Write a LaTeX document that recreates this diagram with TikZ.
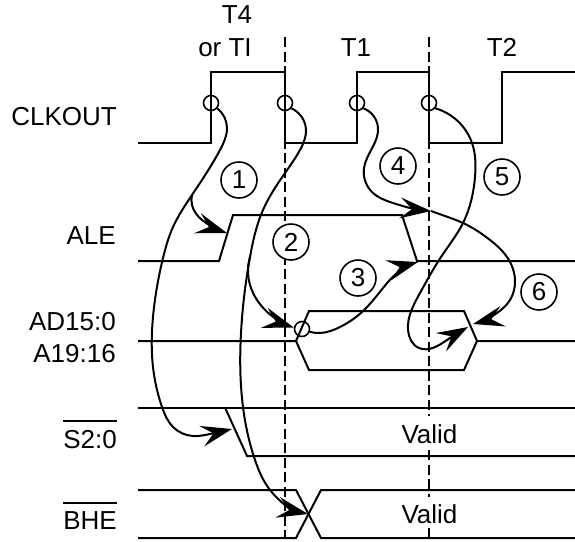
\documentclass[tikz,border=0pt]{standalone}
\usepackage{fontspec}
\setmainfont{Liberation Sans}
\usetikzlibrary{arrows.meta,hobby}
\tikzset{
  x=1pt,y=-1pt,
  sig/.style={line width=2pt,line join=miter},
  guide/.style={line width=1.4pt,dash pattern=on 10pt off 4.5pt},
  curve/.style={line width=2pt,use Hobby shortcut},
  tipped/.style={curve,-{Stealth[length=31pt,width=21pt,inset=12pt]}},
  marker/.style={circle,draw,line width=1.6pt,minimum size=15pt,inner sep=0pt},
  num/.style={circle,draw,fill=white,line width=1.6pt,minimum size=36pt,inner sep=0pt,font=\fontsize{26}{26}\selectfont},
  lab/.style={font=\fontsize{26}{30}\selectfont,inner sep=0pt,anchor=base},
  labr/.style={lab,anchor=base east},
  bar/.style={line width=2pt},
}
\begin{document}
\begin{tikzpicture}
\useasboundingbox (0,0) rectangle (575,541);
% guides
\draw[guide] (285,37) -- (285,538);
\draw[guide] (429,37) -- (429,416);
\draw[guide] (429,450) -- (429,497);
\draw[guide] (429,528) -- (429,538);
% signals
\draw[sig] (138,143) -- (211,143) -- (211,71.5) -- (285,71.5) -- (285,143) -- (357,143) -- (357,71.5) -- (429,71.5) -- (429,143) -- (502,143) -- (502,71.5) -- (575,71.5);
\draw[sig] (138,261) -- (219,261) -- (233,215) -- (402,215) -- (417,261) -- (575,261);
\draw[sig] (138,341) -- (296,341) -- (309,311) -- (464,311) -- (477,341) -- (575,341);
\draw[sig] (296,341) -- (309,370) -- (464,370) -- (477,341);
\draw[sig] (138,407.5) -- (575,407.5);
\draw[sig] (225,407.5) -- (247,456) -- (575,456);
\draw[sig] (138,490) -- (296,490) -- (321,538) -- (575,538);
\draw[sig] (138,538) -- (296,538) -- (321,490) -- (575,490);
% markers
\node[marker] (m1) at (211,103) {};
\node[marker] (m2) at (285,103) {};
\node[marker] (m3) at (357,103) {};
\node[marker] (m4) at (429,103) {};
\node[marker] (m5) at (302,329) {};
% targets
\coordinate (ale) at (227,233);
\coordinate (s) at (232,429);
\coordinate (ad) at (m5.170);
\coordinate (bhe) at (308,514);
\coordinate (alef) at (418,262);
\coordinate (mid) at (431,211);
\coordinate (adh) at (473,324);
\coordinate (adi) at (468,327);
\coordinate (j1) at (192,195);
\coordinate (j2) at (250,257);
% curves
\draw[tipped] (m1.-40) .. (227,128) .. (220,150) .. (j1) .. (173,227) .. (163,258) .. (153,317) .. (153,367) .. (162,407) .. (173,427) .. (193,436) .. (210,434) .. (s);
\draw[tipped] (j1) .. (192,205) .. (202,220) .. (211,226) .. (ale);
\draw[tipped] (m2.-40) .. (306,130) .. (300,150) .. (285,173) .. (263,210) .. (j2) .. (241,333) .. (243,407) .. (255,460) .. (270,490) .. (bhe);
\draw[tipped] (j2) .. (248,270) .. (257,300) .. (272,316) .. (ad);
\draw[tipped] (m5.-20) .. (320,333) .. (340,327) .. (362,312) .. (383,288) .. (397,273) .. (alef);
\draw[tipped] (m3.-40) .. (378,128) .. (364,168) .. (373,193) .. (390,202) .. (mid);
\draw[tipped] (mid) .. (445,216) .. (463,223) .. (490,240) .. (507,257) .. (515,280) .. (510,300) .. (497,313) .. (adh);
\draw[tipped] (m4.-40) .. (472,143) .. (475,177) .. (463,223) .. (441,257) .. (420,293) .. (408,330) .. (419,348) .. (447,340) .. (adi);
% numbers
\node[num] (n1) at (239,180) {1};
\node[num] (n2) at (291,242) {2};
\node[num] (n3) at (358,278) {3};
\node[num] (n4) at (398,166) {4};
\node[num] (n5) at (502,177) {5};
\node[num] (n6) at (539,292) {6};
% labels
\node[lab] (l1) at (237,23) {T4};
\node[lab] (l2) at (225,56) {or TI};
\node[lab] (l3) at (356,56) {T1};
\node[lab] (l4) at (502,56) {T2};
\node[labr] (l5) at (117,125) {CLKOUT};
\node[labr] (l6) at (116,244) {ALE};
\node[labr] (l7) at (116,330) {AD15:0};
\node[labr] (l8) at (116,362) {A19:16};
\node[labr] (l9) at (117,448) {S2:0};
\node[labr] (l10) at (117,529) {BHE};
\draw[bar] (63,421) -- (117,421);
\draw[bar] (63,503) -- (117,503);
\node[lab] (v1) at (429.5,443) {Valid};
\node[lab] (v2) at (429.5,523) {Valid};
\end{tikzpicture}
\end{document}
